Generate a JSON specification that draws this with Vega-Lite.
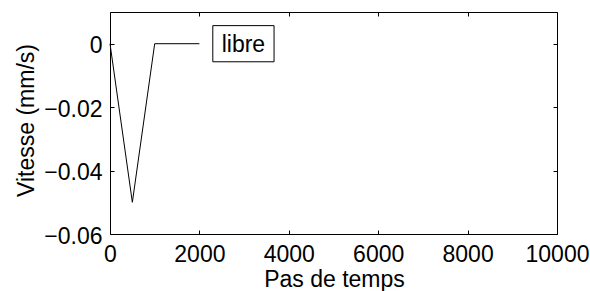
{
  "$schema": "https://vega.github.io/schema/vega-lite/v6.json",
  "width": 447,
  "height": 222,
  "autosize": "none",
  "padding": {"left": 110, "top": 12, "right": 33, "bottom": 57},
  "background": "white",
  "config": {
    "font": "Liberation Sans",
    "view": {"stroke": "black", "strokeWidth": 1},
    "axis": {
      "grid": false,
      "domain": false,
      "tickColor": "black",
      "tickSize": -4,
      "tickWidth": 1,
      "labelFont": "Liberation Sans",
      "labelFontSize": 23,
      "labelColor": "black",
      "titleFont": "Liberation Sans",
      "titleFontSize": 23,
      "titleFontWeight": "normal",
      "titleColor": "black"
    }
  },
  "datasets": {
    "courbe": [
      {"pas": 0, "vitesse": 0},
      {"pas": 500, "vitesse": -0.05},
      {"pas": 1000, "vitesse": 0},
      {"pas": 2000, "vitesse": 0}
    ],
    "etiquette": [
      {"x1": 2300, "x2": 3670, "y1": 0.0057, "y2": -0.0057, "tx": 2985, "ty": 0, "label": "libre"}
    ]
  },
  "layer": [
    {
      "data": {"name": "courbe"},
      "mark": {"type": "line", "color": "black", "strokeWidth": 1},
      "encoding": {
        "x": {
          "field": "pas", "type": "quantitative",
          "scale": {"domain": [0, 10000], "nice": false},
          "axis": {
            "orient": "bottom",
            "values": [0, 2000, 4000, 6000, 8000, 10000],
            "format": "d",
            "labelPadding": 13,
            "labelFlush": false,
            "title": "Pas de temps",
            "titleBaseline": "alphabetic",
            "titleX": 224,
            "titleY": 52
          }
        },
        "y": {
          "field": "vitesse", "type": "quantitative",
          "scale": {"domain": [-0.06, 0.01], "nice": false, "zero": false},
          "axis": {
            "orient": "left",
            "values": [0, -0.02, -0.04, -0.06],
            "format": "~f",
            "labelPadding": 12,
            "labelOffset": 2,
            "labelFlush": false,
            "title": "Vitesse (mm/s)",
            "titleBaseline": "alphabetic",
            "titleX": -77,
            "titleY": 108
          }
        }
      }
    },
    {
      "data": {"name": "etiquette"},
      "mark": {"type": "rect", "fill": "white", "stroke": "black", "strokeWidth": 1},
      "encoding": {
        "x": {
          "field": "x1", "type": "quantitative",
          "axis": {"orient": "top", "values": [0, 2000, 4000, 6000, 8000, 10000], "labels": false, "title": null}
        },
        "x2": {"field": "x2"},
        "y": {
          "field": "y1", "type": "quantitative",
          "axis": {"orient": "right", "values": [0, -0.02, -0.04, -0.06], "labels": false, "title": null}
        },
        "y2": {"field": "y2"}
      }
    },
    {
      "data": {"name": "etiquette"},
      "mark": {"type": "text", "font": "Liberation Sans", "fontSize": 23, "color": "black", "align": "center", "baseline": "middle", "dy": 1},
      "encoding": {
        "x": {"field": "tx", "type": "quantitative", "axis": null},
        "y": {"field": "ty", "type": "quantitative", "axis": null},
        "text": {"field": "label"}
      }
    }
  ],
  "resolve": {"axis": {"x": "independent", "y": "independent"}}
}
